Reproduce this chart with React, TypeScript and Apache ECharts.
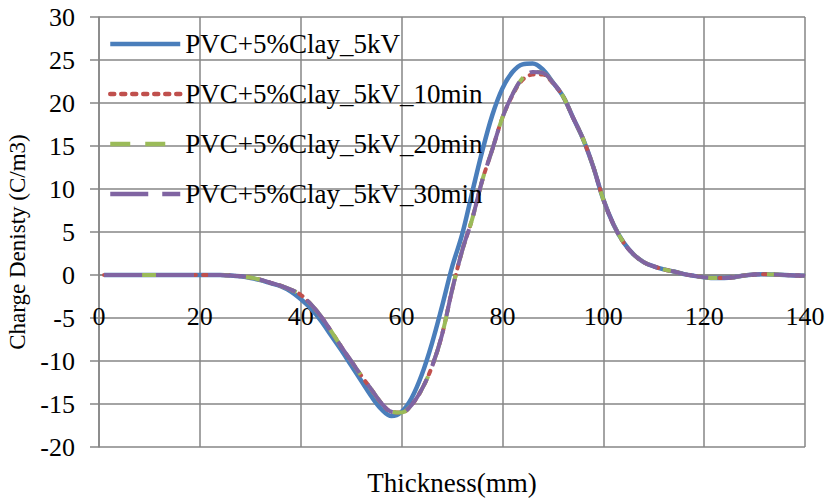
import React, { useEffect, useRef } from "react";
import * as echarts from "echarts";

const xs = [1, 4, 8, 12, 16, 20, 24, 26, 28, 30, 32, 34, 36, 38, 40, 42, 44, 46, 48, 50, 52, 54, 56, 58, 60, 62, 64, 66, 68, 70, 72, 74, 76, 78, 80, 82, 84, 86, 88, 90, 92, 94, 96, 98, 100, 102, 104, 106, 108, 110, 112, 114, 116, 118, 120, 122, 124, 126, 128, 130, 132, 134, 136, 138, 140];

const s5kV = [0, 0, 0, 0, 0, 0, 0, -0.05, -0.15, -0.35, -0.6, -0.95, -1.3, -1.9, -2.8, -3.9, -5.3, -7.0, -8.7, -10.5, -12.3, -14.1, -15.6, -16.4, -15.9, -14.3, -11.6, -8.0, -3.7, 0.9, 4.7, 9.6, 14.4, 18.6, 21.7, 23.6, 24.5, 24.6, 23.9, 22.4, 20.8, 18.3, 15.8, 12.6, 8.8, 5.9, 3.8, 2.4, 1.5, 1.0, 0.65, 0.4, 0.1, -0.1, -0.25, -0.35, -0.35, -0.25, -0.05, 0.05, 0.1, 0.05, 0, -0.05, -0.1];

const s10min = [0, 0, 0, 0, 0, 0, 0, -0.05, -0.15, -0.3, -0.55, -0.9, -1.25, -1.7, -2.3, -3.4, -4.8, -6.5, -8.3, -10.0, -11.7, -13.3, -14.9, -15.9, -16.0, -15.1, -13.3, -10.7, -7.0, -1.8, 2.8, 6.5, 11.0, 14.6, 18.3, 20.9, 22.7, 23.3, 23.3, 22.3, 20.8, 18.3, 15.8, 12.6, 8.8, 5.9, 3.8, 2.4, 1.5, 1.0, 0.65, 0.4, 0.1, -0.1, -0.25, -0.35, -0.35, -0.25, -0.05, 0.05, 0.1, 0.05, 0, -0.05, -0.1];

const s20min = [0, 0, 0, 0, 0, 0, 0, -0.05, -0.15, -0.3, -0.55, -0.9, -1.25, -1.7, -2.3, -3.4, -4.8, -6.5, -8.3, -10.0, -11.7, -13.3, -14.9, -15.9, -16.0, -15.1, -13.3, -10.7, -7.0, -1.8, 2.8, 6.5, 11.0, 14.6, 18.3, 21.0, 22.9, 23.6, 23.5, 22.4, 20.8, 18.3, 15.8, 12.6, 8.8, 5.9, 3.8, 2.4, 1.5, 1.0, 0.65, 0.4, 0.1, -0.1, -0.25, -0.35, -0.35, -0.25, -0.05, 0.05, 0.1, 0.05, 0, -0.05, -0.1];

const s30min = [0, 0, 0, 0, 0, 0, 0, -0.05, -0.15, -0.3, -0.55, -0.9, -1.25, -1.7, -2.3, -3.4, -4.8, -6.5, -8.3, -10.0, -11.7, -13.3, -14.9, -15.9, -16.0, -15.1, -13.3, -10.7, -7.0, -1.8, 2.8, 6.5, 11.0, 14.6, 18.3, 21.0, 22.9, 23.6, 23.5, 22.4, 20.8, 18.3, 15.8, 12.6, 8.8, 5.9, 3.8, 2.4, 1.5, 1.0, 0.65, 0.4, 0.1, -0.1, -0.25, -0.35, -0.35, -0.25, -0.05, 0.05, 0.1, 0.05, 0, -0.05, -0.1];

const seriesNames = ["PVC+5%Clay_5kV", "PVC+5%Clay_5kV_10min", "PVC+5%Clay_5kV_20min", "PVC+5%Clay_5kV_30min"];
const xTitle = "Thickness(mm)";
const yTitle = "Charge Denisty (C/m3)";

const FONT = "'Liberation Serif', 'Times New Roman', serif";

export default function App() {
  const ref = useRef<HTMLDivElement>(null);
  useEffect(() => {
    if (!ref.current) return;
    const chart = echarts.init(ref.current, null, { renderer: "svg" });
    const pair = (arr: number[]) => xs.map((x, i) => [x, arr[i]]);
    const styles = [
      { color: "#4A7EBB", width: 4.5, type: "solid" as any },
      { color: "#C0504D", width: 4, type: [4, 7] as any },
      { color: "#9BBB59", width: 4, type: [20, 15] as any },
      { color: "#8064A2", width: 4, type: [38, 14] as any },
    ];
    const datas = [s5kV, s10min, s20min, s30min];
    chart.setOption({
      animation: false,
      backgroundColor: "#ffffff",
      grid: { left: 99, right: 20, top: 17, bottom: 52, containLabel: false, outerBoundsMode: "none" },
      legend: {
        show: true,
        orient: "vertical",
        left: 103,
        top: 25,
        itemWidth: 70,
        itemHeight: 14,
        itemGap: 22,
        itemStyle: { opacity: 0 },
        lineStyle: { width: 4.5 },
        textStyle: { fontFamily: FONT, fontSize: 27, color: "#000", lineHeight: 28 },
        data: seriesNames,
      },
      xAxis: {
        type: "value",
        min: 0,
        max: 140,
        interval: 20,
        position: "bottom",
        offset: -172,
        name: xTitle,
        nameLocation: "middle",
        nameGap: 194,
        nameTextStyle: { fontFamily: FONT, fontSize: 27, color: "#000" },
        axisLine: { onZero: false, lineStyle: { color: "#868686", width: 1.5 } },
        axisTick: { show: false },
        axisLabel: { fontFamily: FONT, fontSize: 26, color: "#000", margin: 28, hideOverlap: false },
        splitLine: { show: true, lineStyle: { color: "#868686", width: 1.5 } },
      },
      yAxis: {
        type: "value",
        min: -20,
        max: 30,
        interval: 5,
        name: yTitle,
        nameLocation: "middle",
        nameGap: 66,
        nameTextStyle: { fontFamily: FONT, fontSize: 23, color: "#000", padding: [0, 20, 0, 0] },
        axisLine: { show: true, onZero: false, lineStyle: { color: "#868686", width: 1.5 } },
        axisTick: { show: true, inside: false, length: 9, lineStyle: { color: "#868686", width: 1.5 } },
        axisLabel: { fontFamily: FONT, fontSize: 26, color: "#000", margin: 24, hideOverlap: false },
        splitLine: { show: true, lineStyle: { color: "#868686", width: 1.5 } },
      },
      series: datas.map((d, i) => ({
        name: seriesNames[i],
        type: "line",
        data: pair(d),
        smooth: 0.35,
        symbol: "none",
        showSymbol: false,
        lineStyle: { color: styles[i].color, width: styles[i].width, type: styles[i].type, cap: i === 1 ? "round" : "butt" },
        itemStyle: { color: styles[i].color },
        emphasis: { disabled: true },
      })),
    });
    return () => chart.dispose();
  }, []);
  return <div ref={ref} style={{ width: 825, height: 499, position: "absolute", left: 0, top: 0 }} />;
}
